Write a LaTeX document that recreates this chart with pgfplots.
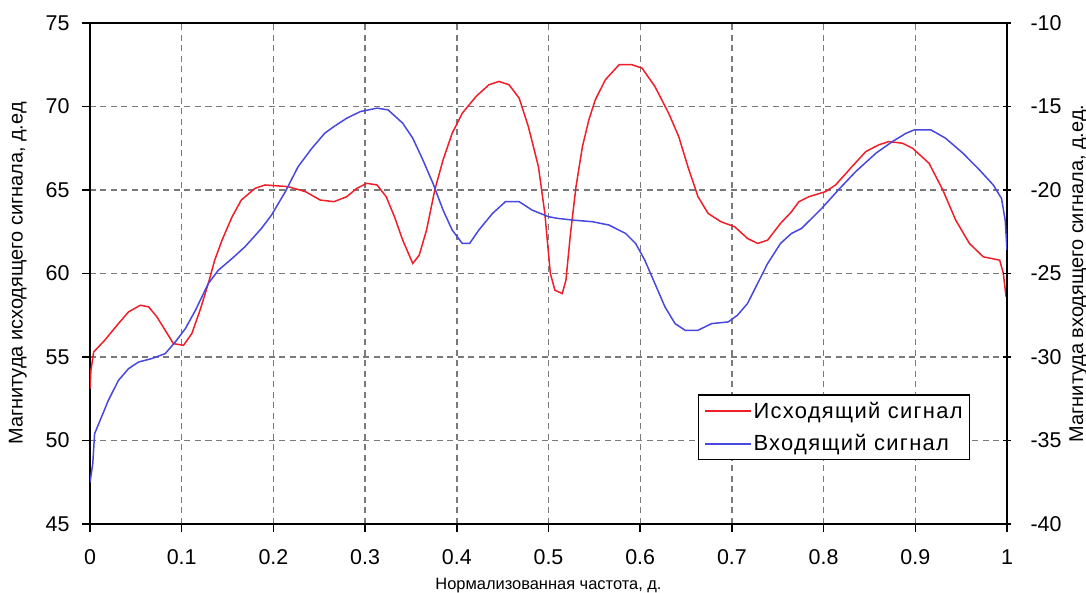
\documentclass[border=0pt]{standalone}
\usepackage{fontspec}
\setmainfont{Liberation Sans}
\usepackage{pgfplots}
\pgfplotsset{compat=1.18}
\definecolor{cred}{HTML}{F01E28}
\definecolor{cblue}{HTML}{4848E0}
\definecolor{cgrid}{HTML}{7A7A7A}

\pgfplotstableread{
x y
0.000 53.1
0.001 54.2
0.004 55.3
0.016 56.0
0.031 57.0
0.042 57.7
0.055 58.1
0.064 58.0
0.073 57.4
0.082 56.6
0.091 55.8
0.102 55.7
0.111 56.4
0.120 57.8
0.129 59.4
0.136 60.8
0.144 62.0
0.155 63.4
0.165 64.4
0.180 65.1
0.191 65.3
0.216 65.2
0.235 64.9
0.251 64.4
0.266 64.3
0.280 64.6
0.291 65.1
0.302 65.4
0.313 65.3
0.323 64.6
0.332 63.4
0.341 62.0
0.352 60.6
0.359 61.1
0.367 62.6
0.376 65.0
0.385 66.8
0.395 68.4
0.406 69.6
0.421 70.6
0.435 71.3
0.446 71.5
0.457 71.3
0.468 70.5
0.478 68.8
0.489 66.4
0.496 63.6
0.502 60.0
0.507 59.0
0.515 58.8
0.519 59.6
0.524 62.4
0.530 65.2
0.537 67.6
0.544 69.2
0.551 70.4
0.562 71.6
0.577 72.5
0.591 72.5
0.602 72.3
0.616 71.2
0.631 69.6
0.642 68.2
0.652 66.4
0.663 64.6
0.674 63.6
0.688 63.1
0.703 62.8
0.717 62.1
0.728 61.8
0.739 62.0
0.753 63.0
0.765 63.7
0.773 64.3
0.784 64.6
0.802 64.9
0.813 65.3
0.831 66.4
0.846 67.3
0.860 67.7
0.871 67.9
0.886 67.8
0.897 67.5
0.915 66.6
0.930 65.0
0.944 63.2
0.959 61.8
0.974 61.0
0.992 60.8
0.996 60.0
0.999 58.6
}\outsig

\pgfplotstableread{
x y
0.000 -37.5
0.003 -36.4
0.005 -34.6
0.011 -33.8
0.020 -32.6
0.031 -31.4
0.042 -30.7
0.053 -30.3
0.067 -30.1
0.082 -29.8
0.093 -29.1
0.104 -28.3
0.115 -27.2
0.129 -25.6
0.140 -24.8
0.155 -24.1
0.169 -23.4
0.187 -22.3
0.198 -21.5
0.213 -20.1
0.227 -18.6
0.242 -17.5
0.256 -16.6
0.266 -16.2
0.280 -15.7
0.295 -15.3
0.313 -15.1
0.325 -15.2
0.341 -16.0
0.352 -16.9
0.363 -18.2
0.374 -19.6
0.385 -21.2
0.395 -22.4
0.406 -23.2
0.414 -23.2
0.424 -22.4
0.439 -21.4
0.453 -20.7
0.468 -20.7
0.482 -21.2
0.500 -21.6
0.510 -21.7
0.526 -21.8
0.548 -21.9
0.566 -22.1
0.584 -22.6
0.595 -23.2
0.605 -24.2
0.616 -25.6
0.627 -27.0
0.638 -28.0
0.649 -28.4
0.663 -28.4
0.678 -28.0
0.696 -27.9
0.706 -27.5
0.717 -26.8
0.728 -25.6
0.739 -24.4
0.753 -23.2
0.765 -22.6
0.776 -22.3
0.798 -21.1
0.816 -20.0
0.835 -18.9
0.857 -17.8
0.875 -17.1
0.890 -16.6
0.899 -16.4
0.917 -16.4
0.933 -16.9
0.952 -17.8
0.970 -18.8
0.985 -19.7
0.994 -20.5
0.998 -21.8
1.000 -23.6
}\insig

\pgfplotsset{
  base/.style={
    scale only axis, width=917bp, height=501bp,
    xmin=0, xmax=1,
    xtick={0,0.1,...,1.01},
    xticklabels={0,0.1,0.2,0.3,0.4,0.5,0.6,0.7,0.8,0.9,1},
    tick label style={font=\fontsize{21.5}{24}\selectfont},
    /pgf/number format/assume math mode=true,
    axis line style={line width=2bp},
    tick style={line width=1.5bp, black},
    major tick length=8bp,
  },
}

\begin{document}
\begin{tikzpicture}
\begin{axis}[base,
    ymin=45, ymax=75, ytick={45,50,...,75},
    tick align=outside,
    xtick pos=lower, ytick pos=left,
    yticklabel style={xshift=-9bp},
    xticklabel style={yshift=-14bp},
    grid=major,
    grid style={cgrid, line width=1.4bp, dash pattern=on 6bp off 4.5bp},
    xlabel={Нормализованная частота, д.},
    xlabel style={font=\fontsize{16.5}{18}\selectfont, yshift=-7bp},
    ylabel={Магнитуда исходящего сигнала, д.ед},
    ylabel style={font=\fontsize{20}{22}\selectfont, yshift=12bp},
]
\addplot[cred, line width=1.5bp] table {\outsig};
\end{axis}
\begin{axis}[base,
    ymin=-40, ymax=-10, ytick={-40,-35,...,-10},
    axis x line=none,
    axis y line*=right,
    ytick align=center,
    yticklabel style={xshift=16bp},
    ylabel={Магнитуда входящего сигнала, д.ед.},
    ylabel style={font=\fontsize{20}{22}\selectfont, yshift=-1bp},
    legend style={at={(rel axis cs:0.663,0.259)}, anchor=north west,
      draw=black, line width=1.5bp, fill=white,
      font=\fontsize{22}{25}\selectfont\addfontfeatures{LetterSpace=6},
      inner xsep=5bp, inner ysep=5bp, row sep=11bp},
    legend cell align=left,
    legend image code/.code={\draw[line width=1.8bp, #1] (10bp,0bp) -- (56bp,0bp);},
]
\addlegendimage{draw=cred}
\addlegendentry{Исходящий сигнал}
\addlegendimage{draw=cblue}
\addlegendentry{Входящий сигнал}
\addplot[cblue, line width=1.5bp, forget plot] table {\insig};
\end{axis}
\pgfresetboundingbox
\path[use as bounding box]
  ([shift={(-90bp,-69bp)}]current axis.south west) rectangle
  ([shift={(79bp,23bp)}]current axis.north east);
\end{tikzpicture}
\end{document}
